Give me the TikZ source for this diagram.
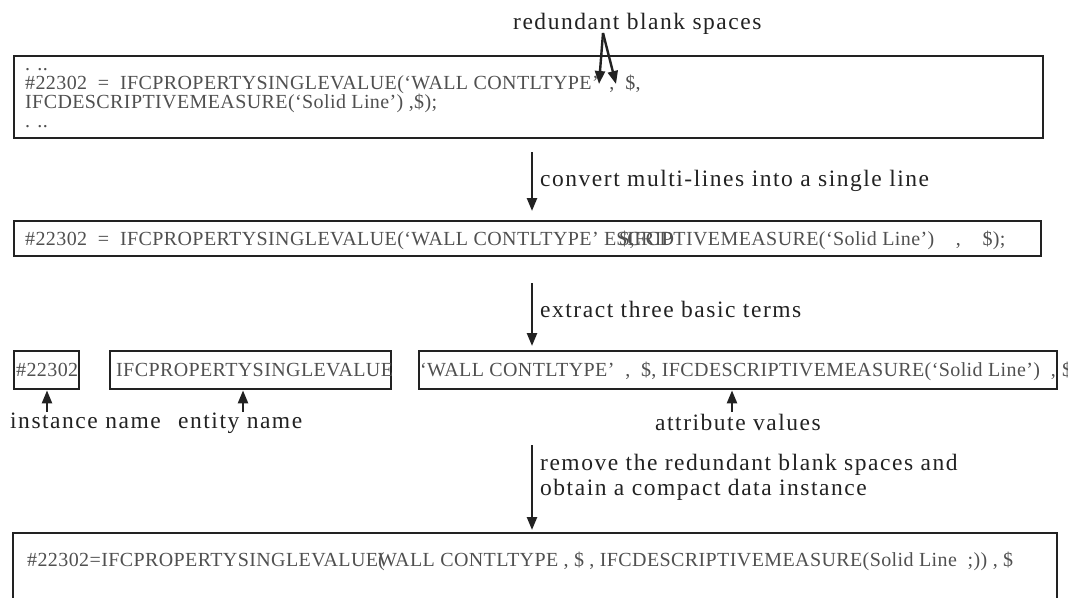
\documentclass[tikz,border=0pt]{standalone}
\usepackage{fontspec}
\setmainfont{Liberation Serif}
\usetikzlibrary{arrows.meta}
\definecolor{ink}{HTML}{222222}
\definecolor{code}{HTML}{505050}
\newfontfamily\lblfont[LetterSpace=6.5]{Liberation Serif}
\newfontfamily\codefont[LetterSpace=2]{Liberation Serif}
\begin{document}
\begin{tikzpicture}[x=1pt,y=-1pt,
  box/.style={draw=ink,line width=2.4pt,inner sep=0pt,anchor=north west},
  codetxt/.style={anchor=base west,inner sep=0pt,text=code,font=\codefont\fontsize{20}{22}\selectfont},
  lbl/.style={anchor=base west,inner sep=0pt,text=ink,font=\lblfont\fontsize{23.5}{25}\selectfont},
  arr/.style={draw=ink,line width=2.4pt,-{Triangle[width=10pt,length=13pt]}}]
\useasboundingbox (0,0) rectangle (1068,597);
% top label and arrows
\node[lbl] (red) at (513,29) {redundant blank spaces};
\coordinate (redA) at (603,33);
\coordinate (sp1) at (599,84);
\coordinate (sp2) at (616,84);
\draw[arr] (redA) -- (sp1);
\draw[arr] (redA) -- (sp2);
% box 1
\node[box,minimum width=1029pt,minimum height=82pt] (b1) at (13,55) {};
\node[codetxt] (b1d1) at (25,70) {. ..};
\node[codetxt] (b1l1) at (25,89) {\#22302\ \ =\ \ IFCPROPERTYSINGLEVALUE(‘WALL CONTLTYPE’\ \ ,\ \ \$,};
\node[codetxt] (b1l2) at (25,108) {IFCDESCRIPTIVEMEASURE(‘Solid Line’) ,\$);};
\node[codetxt] (b1d2) at (25,127) {. ..};
% arrow 1
\coordinate (a1s) at (532,152);
\coordinate (a1e) at (532,211);
\draw[arr] (a1s) -- (a1e);
\node[lbl] (l1) at (540,186) {convert multi-lines into a single line};
% box 2
\node[box,minimum width=1027pt,minimum height=35pt] (b2) at (13,220) {};
\node[codetxt] (b2t) at (25,245) {\#22302\ \ =\ \ IFCPROPERTYSINGLEVALUE(‘WALL CONTLTYPE’ E\rlap{\kern3pt\$,}S\rlap{IFCD}CRIPTIVEMEASURE(‘Solid Line’)\ \ \ \ ,\ \ \ \ \$);};
% arrow 2
\coordinate (a2s) at (532,283);
\coordinate (a2e) at (532,346);
\draw[arr] (a2s) -- (a2e);
\node[lbl] (l2) at (540,317) {extract three basic terms};
% box 3
\node[box,minimum width=65pt,minimum height=38pt] (b3a) at (13,350) {};
\node[box,minimum width=281pt,minimum height=38pt] (b3b) at (109,350) {};
\node[box,minimum width=638pt,minimum height=38pt] (b3c) at (418,350) {};
\node[codetxt] (t3a) at (16,376) {\#22302};
\node[codetxt] (t3b) at (116,376) {IFCPROPERTYSINGLEVALUE};
\node[codetxt] (t3c) at (420,376) {‘WALL CONTLTYPE’\ \ ,\ \ \$, IFCDESCRIPTIVEMEASURE(‘Solid Line’)\ \ ,};
\node[codetxt] (t3d) at (1062,376) {\$};
% labels under box 3
\node[lbl] (inst) at (10,428) {instance name};
\node[lbl] (ent) at (178,428) {entity name};
\node[lbl] (attr) at (655,430) {attribute values};
\coordinate (u1) at (47,412);
\coordinate (u2) at (243,412);
\coordinate (u3) at (732,412);
\draw[arr] (u1) -- (b3a.south -| u1);
\draw[arr] (u2) -- (b3b.south -| u2);
\draw[arr] (u3) -- (b3c.south -| u3);
% arrow 3
\coordinate (a3s) at (532,445);
\coordinate (a3e) at (532,530);
\draw[arr] (a3s) -- (a3e);
\node[lbl] (l3a) at (540,470) {remove the redundant blank spaces and};
\node[lbl] (l3b) at (540,495) {obtain a compact data instance};
% box 4 (open at the bottom)
\coordinate (b4bl) at (13,610);
\coordinate (b4tl) at (13,533);
\coordinate (b4tr) at (1057,533);
\coordinate (b4br) at (1057,610);
\draw[draw=ink,line width=2.4pt] (b4bl) -- (b4tl) -- (b4tr) -- (b4br);
\node[codetxt] (b4t) at (27,566) {\#22302=IFCPROPERTYSINGLEVALUE\rlap{(}WALL CONTLTYPE ,\ \$\ , IFCDESCRIPTIVEMEASURE(Solid Line\ \ ;)) , \$};
\end{tikzpicture}
\end{document}
